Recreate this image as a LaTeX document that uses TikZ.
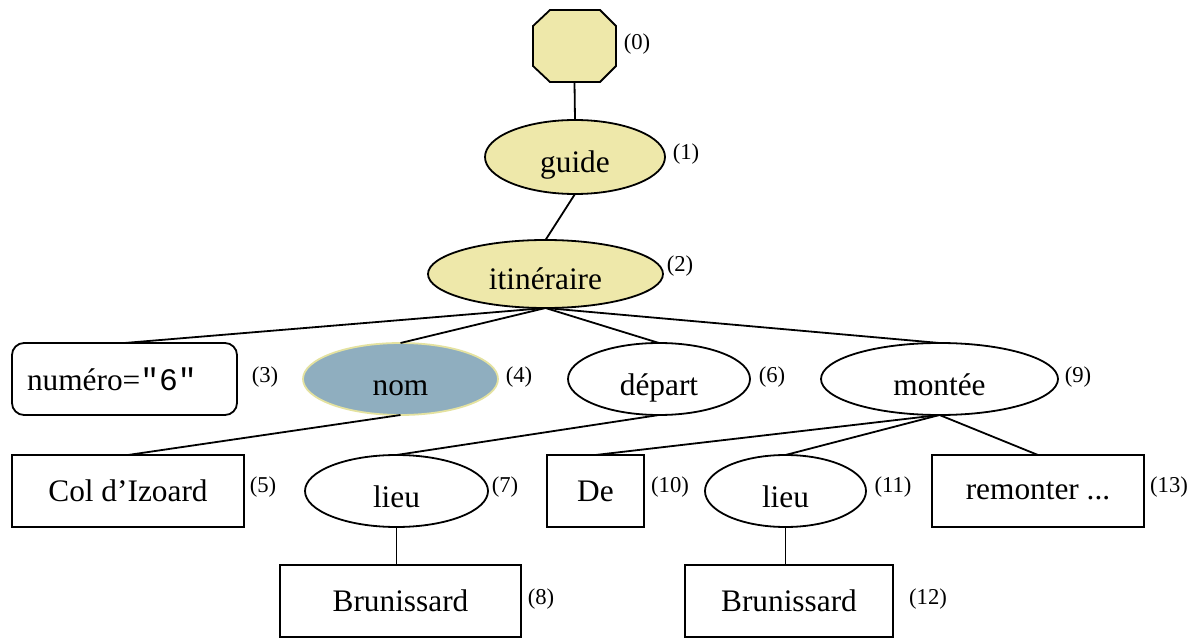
\documentclass[tikz,border=0pt]{standalone}
\usepackage{fontspec}
\setmainfont{Liberation Serif}
\newfontfamily\monofnt{Liberation Mono}
\usetikzlibrary{shapes.geometric}
\definecolor{paleyellow}{RGB}{238,232,170}
\definecolor{nomblue}{RGB}{143,174,191}
\definecolor{nomborder}{RGB}{228,226,160}
\begin{document}
\begin{tikzpicture}[x=0.75pt,y=-0.75pt,
  every node/.style={inner sep=0pt, outer sep=0pt},
  base/.style={draw=black, line width=1.35pt, font=\fontsize{23.5}{28}\selectfont},
  ell/.style={base, ellipse, minimum height=54pt, text height=24pt, text depth=0pt},
  box/.style={base, rectangle, minimum height=54pt},
  num/.style={font=\fontsize{17}{20}\selectfont},
  conn/.style={line width=1.35pt}]
\useasboundingbox (0,0) rectangle (1197,638);

% octagon (0)
\draw[fill=paleyellow, line width=1.35pt] (550,10) -- (600,10) -- (616,26) -- (616,66) -- (600,82) -- (550,82) -- (533,66) -- (533,26) -- cycle;
\node (n0) at (574.5,46) [minimum width=62.25pt, minimum height=54pt] {};
\node[num] (l0) at (637,44) {(0)};

% row 1
\node[ell, fill=paleyellow, minimum width=135pt, minimum height=55.5pt] (n1) at (575,157) {guide};
\node[num] (l1) at (686,154) {(1)};
\node[ell, fill=paleyellow, minimum width=176.25pt, minimum height=51pt] (n2) at (545.5,274) {itinéraire};
\node[num] (l2) at (680,266) {(2)};

% row 2
\node[box, rounded corners=9pt, minimum width=168.75pt, text width=146.25pt, inner xsep=11.25pt, align=left] (n3) at (124.5,379) {numéro={\monofnt"6"}};
\node[num] (l3) at (265,377) {(3)};
\node[ell, draw=nomborder, fill=nomblue, minimum width=146.25pt] (n4) at (400.5,379) {nom};
\node[num] (l4) at (519,377) {(4)};
\node[ell, minimum width=136.5pt] (n6) at (659,379) {départ};
\node[num] (l6) at (772,377) {(6)};
\node[ell, minimum width=177.75pt] (n9) at (939.5,379) {montée};
\node[num] (l9) at (1078,377) {(9)};

% row 3
\node[box, minimum width=174pt] (n5) at (128,491) {Col d’Izoard};
\node[num] (l5) at (263,487) {(5)};
\node[ell, minimum width=137.25pt] (n7) at (396.5,491) {lieu};
\node[num] (l7) at (505,487) {(7)};
\node[box, minimum width=72.75pt] (n10) at (595.5,491) {De};
\node[num] (l10) at (670,487) {(10)};
\node[ell, minimum width=120.75pt] (n11) at (785.5,491) {lieu};
\node[num] (l11) at (893,487) {(11)};
\node[box, minimum width=159pt] (n13) at (1038,491) {remonter ...};
\node[num] (l13) at (1169,487) {(13)};

% row 4
\node[box, minimum width=180.75pt] (n8) at (400.5,601) {Brunissard};
\node[num] (l8) at (541,599) {(8)};
\node[box, minimum width=156pt] (n12) at (789,601) {Brunissard};
\node[num] (l12) at (928,599) {(12)};

% connectors
\draw[conn] (n0.south) -- (n1.north);
\draw[conn] (n1.south) -- (n2.north);
\draw[conn] (n2.south) -- (n3.north);
\draw[conn] (n2.south) -- (n4.north);
\draw[conn] (n2.south) -- (n6.north);
\draw[conn] (n2.south) -- (n9.north);
\draw[conn] (n4.south) -- (n5.north);
\draw[conn] (n6.south) -- (n7.north);
\draw[conn] (n9.south) -- (n10.north);
\draw[conn] (n9.south) -- (n11.north);
\draw[conn] (n9.south) -- (n13.north);
\draw[conn] (n7.south) -- (n7.south |- n8.north);
\draw[conn] (n11.south) -- (n11.south |- n12.north);
\end{tikzpicture}
\end{document}
